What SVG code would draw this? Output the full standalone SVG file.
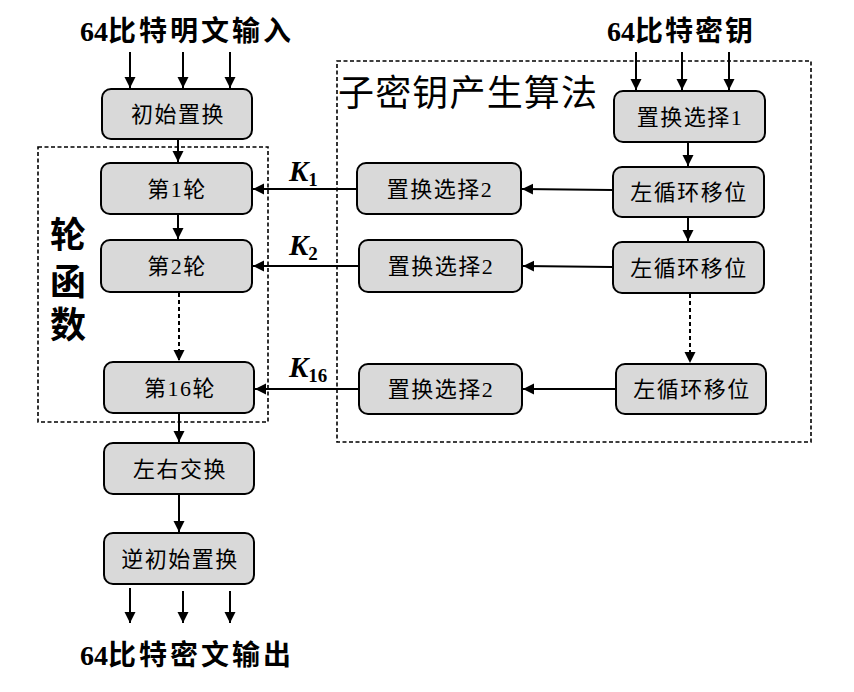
<svg xmlns="http://www.w3.org/2000/svg" width="854" height="692" viewBox="0 0 854 692">
<defs>
<marker id="ah" markerUnits="userSpaceOnUse" markerWidth="12" markerHeight="12" refX="11" refY="6" orient="auto">
<path d="M0,0.5 L11,6 L0,11.5 z" fill="#000"/>
</marker>
<style>
.box{fill:#d9d9d9;stroke:#000;stroke-width:2}
.frame{fill:none;stroke:#000;stroke-width:1.6;stroke-dasharray:4,2.5}
.c{stroke:#000;stroke-width:2;fill:none;marker-end:url(#ah)}
.d{stroke-dasharray:4,3}
.t{font-family:"Liberation Serif","Noto Sans CJK SC",serif;font-size:22px;letter-spacing:1.5px;text-anchor:middle;fill:#000}
.title{font-family:"Liberation Serif","Noto Sans CJK SC",serif;font-weight:bold;font-size:28px;fill:#000}
.k{font-family:"Liberation Serif",serif;font-weight:bold;fill:#000}
</style>
</defs>
<rect width="854" height="692" fill="#fff"/>

<g id="frames">
<rect class="frame" x="38" y="147" width="230" height="275"/>
<rect class="frame" x="337" y="61" width="474" height="381"/>
</g>

<g id="labels">
<text class="title" x="80" y="41">64<tspan letter-spacing="3">比特明文输入</tspan></text>
<text class="title" x="607" y="41">64<tspan letter-spacing="2">比特密钥</tspan></text>
<text class="title" x="80" y="665">64<tspan letter-spacing="3">比特密文输出</tspan></text>
<text x="338" y="106" font-family="'Liberation Serif','Noto Sans CJK SC',serif" font-size="36" textLength="259" lengthAdjust="spacing">子密钥产生算法</text>
<g font-family="'Liberation Serif','Noto Sans CJK SC',serif" font-size="36" font-weight="bold" text-anchor="middle">
<text x="68" y="248">轮</text>
<text x="68" y="295">函</text>
<text x="68" y="338">数</text>
</g>
<text class="k" x="289" y="181" font-size="29" font-style="italic">K<tspan font-style="normal" font-size="19" dy="5">1</tspan></text>
<text class="k" x="289" y="255" font-size="29" font-style="italic">K<tspan font-style="normal" font-size="19" dy="5">2</tspan></text>
<text class="k" x="289" y="377" font-size="29" font-style="italic">K<tspan font-style="normal" font-size="19" dy="5">16</tspan></text>
</g>

<g id="ip"><rect class="box" x="102" y="89" width="150" height="50" rx="9"/><text class="t" x="178" y="122">初始置换</text></g>
<g id="r1"><rect class="box" x="101" y="163" width="151" height="51" rx="9"/><text class="t" x="177" y="197">第1轮</text></g>
<g id="r2"><rect class="box" x="101" y="240" width="151" height="52" rx="9"/><text class="t" x="177" y="274">第2轮</text></g>
<g id="r16"><rect class="box" x="104" y="362" width="150" height="51" rx="9"/><text class="t" x="180" y="396">第16轮</text></g>
<g id="swap"><rect class="box" x="104" y="443" width="150" height="51" rx="9"/><text class="t" x="180" y="477">左右交换</text></g>
<g id="fp"><rect class="box" x="104" y="533" width="150" height="51" rx="9"/><text class="t" x="180" y="567">逆初始置换</text></g>

<g id="pc1"><rect class="box" x="614" y="91" width="151" height="51" rx="9"/><text class="t" x="690" y="125">置换选择1</text></g>
<g id="ls1"><rect class="box" x="613" y="167" width="151" height="50" rx="9"/><text class="t" x="689" y="200">左循环移位</text></g>
<g id="ls2"><rect class="box" x="613" y="242" width="151" height="51" rx="9"/><text class="t" x="689" y="276">左循环移位</text></g>
<g id="ls16"><rect class="box" x="616" y="364" width="150" height="50" rx="9"/><text class="t" x="692" y="397">左循环移位</text></g>
<g id="pc2a"><rect class="box" x="357" y="163" width="164" height="51" rx="9"/><text class="t" x="440" y="197">置换选择2</text></g>
<g id="pc2b"><rect class="box" x="359" y="240" width="163" height="52" rx="9"/><text class="t" x="441" y="274">置换选择2</text></g>
<g id="pc2c"><rect class="box" x="359" y="364" width="163" height="50" rx="9"/><text class="t" x="441" y="397">置换选择2</text></g>

<g id="connectors">
<line class="c" x1="130" y1="52" x2="130" y2="88"/>
<line class="c" x1="183" y1="52" x2="183" y2="88"/>
<line class="c" x1="230" y1="52" x2="230" y2="88"/>
<line class="c" x1="636" y1="52" x2="636" y2="90"/>
<line class="c" x1="682" y1="52" x2="682" y2="90"/>
<line class="c" x1="729" y1="52" x2="729" y2="90"/>
<line class="c" x1="130" y1="588" x2="130" y2="623"/>
<line class="c" x1="183" y1="591" x2="183" y2="623"/>
<line class="c" x1="230" y1="591" x2="230" y2="623"/>
<line class="c" x1="178" y1="140" x2="178" y2="162"/>
<line class="c" x1="178" y1="215" x2="178" y2="239"/>
<line class="c d" x1="179" y1="293" x2="179" y2="361"/>
<line class="c" x1="179" y1="414" x2="179" y2="442"/>
<line class="c" x1="179" y1="495" x2="179" y2="532"/>
<line class="c" x1="688" y1="143" x2="688" y2="166"/>
<line class="c" x1="688" y1="218" x2="688" y2="241"/>
<line class="c d" x1="690" y1="294" x2="690" y2="363"/>
<line class="c" x1="612" y1="190" x2="522" y2="189"/>
<line class="c" x1="356" y1="189" x2="253" y2="189"/>
<line class="c" x1="612" y1="267" x2="523" y2="266"/>
<line class="c" x1="358" y1="266" x2="253" y2="266"/>
<line class="c" x1="615" y1="389" x2="523" y2="389"/>
<line class="c" x1="358" y1="389" x2="255" y2="389"/>
</g>
</svg>
